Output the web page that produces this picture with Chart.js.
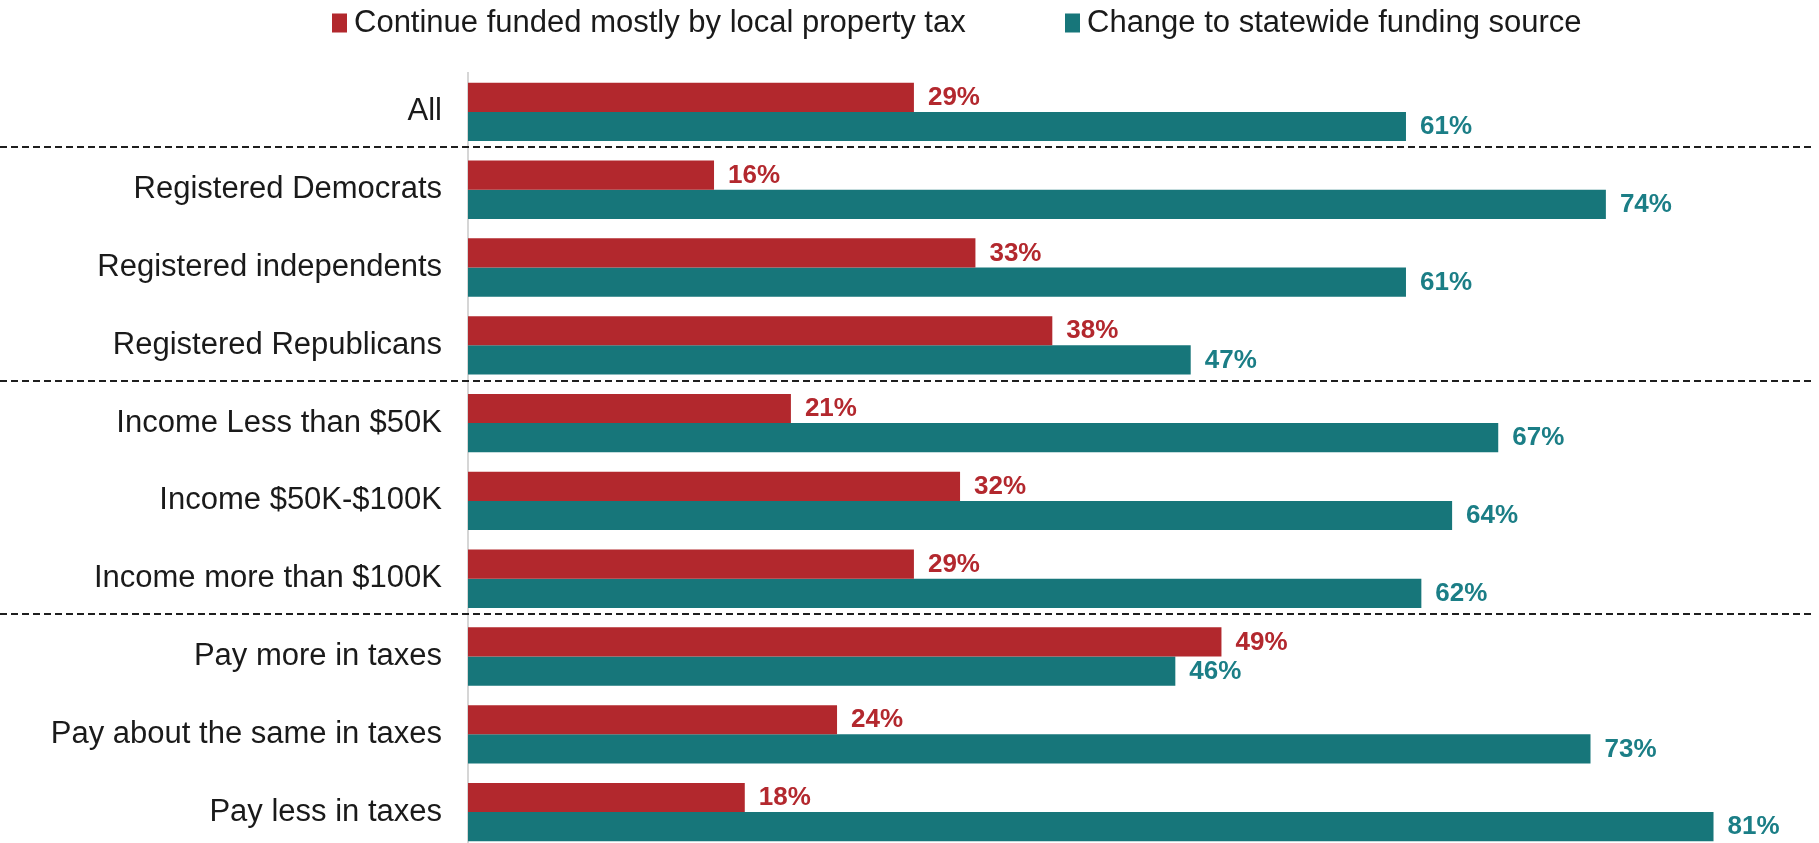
<!DOCTYPE html>
<html>
<head>
<meta charset="utf-8">
<script src="https://cdn.jsdelivr.net/npm/chart.js@4.4.1/dist/chart.umd.min.js"></script>
<style>
html,body{margin:0;padding:0;background:#ffffff;overflow:hidden;}
canvas{display:block;}
</style>
</head>
<body>
<canvas id="c" width="1819" height="851" style="width:1819px;height:851px;"></canvas>
<script>
// ---- data ----
const categories = [
  "All",
  "Registered Democrats",
  "Registered independents",
  "Registered Republicans",
  "Income Less than $50K",
  "Income $50K-$100K",
  "Income more than $100K",
  "Pay more in taxes",
  "Pay about the same in taxes",
  "Pay less in taxes"
];
const seriesNames = ["Continue funded mostly by local property tax", "Change to statewide funding source"];
const localPropertyTax = [29, 16, 33, 38, 21, 32, 29, 49, 24, 18];
const statewideSource = [61, 74, 61, 47, 67, 64, 62, 46, 73, 81];
const separatorsAfter = [0, 3, 6];

// ---- style ----
const FONT = '"Liberation Sans", Arial, Helvetica, sans-serif';
const RED = '#B2282D';
const TEAL = '#17767A';
const RED_LABEL = '#B3282E';
const TEAL_LABEL = '#1B7E86';

const overlay = {
  id: 'overlay',
  afterDatasetsDraw(chart) {
    const ctx = chart.ctx;
    const yScale = chart.scales.y;
    const area = chart.chartArea;

    // dashed group separators
    ctx.save();
    ctx.strokeStyle = '#1f1f1f';
    ctx.lineWidth = 2;
    ctx.setLineDash([7, 4]);
    separatorsAfter.forEach(i => {
      const mid = (yScale.getPixelForValue(i) + yScale.getPixelForValue(i + 1)) / 2 - 3.5;
      const py = Math.round(mid);
      ctx.beginPath();
      ctx.moveTo(0, py);
      ctx.lineTo(area.right, py);
      ctx.stroke();
    });
    ctx.restore();

    // value labels
    ctx.save();
    ctx.font = 'bold 26px ' + FONT;
    ctx.textAlign = 'left';
    ctx.textBaseline = 'middle';
    chart.data.datasets.forEach((ds, di) => {
      const meta = chart.getDatasetMeta(di);
      ctx.fillStyle = di === 0 ? RED_LABEL : TEAL_LABEL;
      meta.data.forEach((bar, i) => {
        ctx.fillText(ds.data[i] + '%', bar.x + 14, bar.y + 0.5);
      });
    });
    ctx.restore();

    // legend
    ctx.save();
    ctx.font = '31px ' + FONT;
    ctx.textAlign = 'left';
    ctx.textBaseline = 'middle';
    const legendX = [332, 1065];
    const legendY = 23;
    chart.data.datasets.forEach((ds, di) => {
      const x = legendX[di];
      ctx.fillStyle = ds.backgroundColor;
      ctx.fillRect(x, legendY - 9.5, 15, 19);
      ctx.fillStyle = '#1a1a1a';
      ctx.fillText(ds.label, x + 22, legendY);
    });
    ctx.restore();
  }
};

new Chart(document.getElementById('c'), {
  type: 'bar',
  data: {
    labels: categories,
    datasets: [
      { label: seriesNames[0], data: localPropertyTax, backgroundColor: RED,
        barPercentage: 1.0, categoryPercentage: 0.75 },
      { label: seriesNames[1], data: statewideSource, backgroundColor: TEAL,
        barPercentage: 1.0, categoryPercentage: 0.75 }
    ]
  },
  options: {
    indexAxis: 'y',
    responsive: false,
    maintainAspectRatio: false,
    animation: false,
    devicePixelRatio: 1,
    layout: { padding: { top: 73, right: 4, bottom: 0, left: 0 } },
    plugins: {
      legend: { display: false },
      tooltip: { enabled: false },
      title: { display: false }
    },
    scales: {
      x: {
        display: false,
        min: 0,
        max: 87.6
      },
      y: {
        position: 'left',
        grid: { display: false, drawTicks: false },
        border: { display: true, color: '#d6d6d6', width: 2 },
        ticks: {
          color: '#1a1a1a',
          padding: 26,
          font: { family: FONT, size: 31 }
        },
        afterFit(scale) {
          scale.width = 468;
          scale.paddingTop = 0;
          scale.paddingBottom = 0;
        }
      }
    }
  },
  plugins: [overlay]
});
</script>
</body>
</html>
